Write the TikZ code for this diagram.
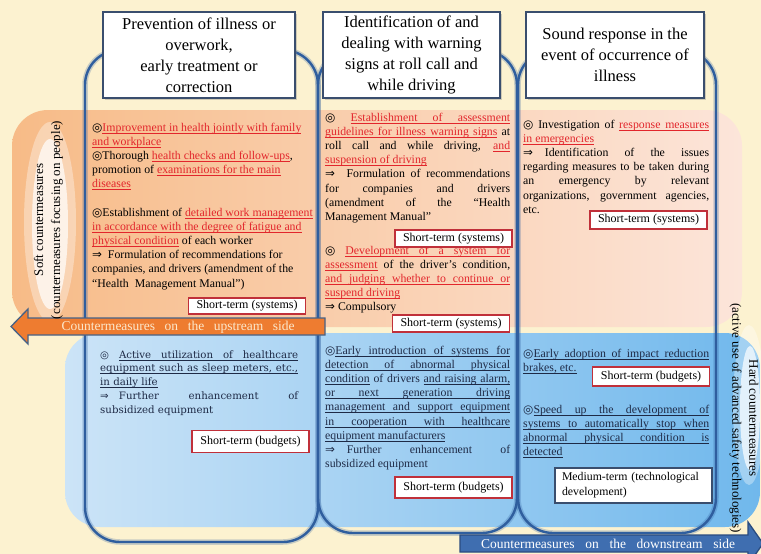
\documentclass[tikz,border=0pt]{standalone}
\usepackage{fontspec}
\setmainfont{Liberation Serif}
\newfontfamily\symfont{DejaVu Sans}
\newfontfamily\centfont{DejaVu Serif}
\usetikzlibrary{positioning,shadows}
\definecolor{bgcream}{RGB}{252,242,208}
\definecolor{softL}{RGB}{247,187,135}
\definecolor{softR}{RGB}{252,229,218}
\definecolor{hardL}{RGB}{204,228,247}
\definecolor{hardR}{RGB}{112,184,236}
\definecolor{colblue}{RGB}{47,94,158}
\definecolor{headframe}{RGB}{58,78,110}
\definecolor{warnred}{RGB}{226,38,44}
\definecolor{termred}{RGB}{192,48,58}
\definecolor{navytext}{RGB}{30,42,70}
\definecolor{upfill}{RGB}{238,124,48}
\definecolor{upframe}{RGB}{70,98,135}
\definecolor{uptext}{RGB}{252,232,204}
\definecolor{downfill}{RGB}{63,110,176}
\definecolor{downframe}{RGB}{42,76,128}
\newcommand{\dmark}{{\symfont ◎}}
\newcommand{\thento}{{\symfont ⇒}}
% underlined words joined by underlined stretchable spaces
\newcommand{\ulw}[1]{\setbox0\hbox{#1}\rlap{\rule[-2.3pt]{\wd0}{0.7pt}}\box0}
\newcommand{\uls}{\leaders\hrule height -1.6pt depth 2.3pt\hskip\fontdimen2\font plus\fontdimen3\font minus\fontdimen4\font}
\def\ulend{ULEND}
\def\ulph#1{\ulfirst#1 ULEND }
\def\ulfirst#1 {\ulw{#1}\ulrest}
\def\ulrest#1 {\def\ultmp{#1}\ifx\ultmp\ulend\else\uls\ulw{#1}\expandafter\ulrest\fi}
\newcommand{\redul}[1]{{\color{warnred}\ulph{#1}}}
\newcommand{\fullline}[1]{\hbox to\linewidth{#1}}
\newcommand{\lastline}[1]{\hbox to\linewidth{#1\hfil}}

\begin{document}
\begin{tikzpicture}[x=1pt,y=-1pt,
    colframe/.style={draw=colblue,line width=2.4pt,rounded corners=35pt},
    headbox/.style={draw=headframe,line width=1.3pt,fill=white,align=center,inner sep=0pt,
      font=\fontsize{16.5}{21}\selectfont,minimum height=86pt,
      drop shadow={shadow xshift=1.5pt,shadow yshift=-1.5pt,opacity=0.35}},
    termbox/.style={draw=termred,line width=1.3pt,fill=white,inner sep=0pt,minimum width=117pt,
      font=\fontsize{12}{14}\selectfont},
    body/.style={anchor=base west,inner sep=0pt,font=\fontsize{11.8}{14.2}\selectfont},
    sidelabel/.style={align=center,font=\fontsize{13}{17}\selectfont}]
  \useasboundingbox (0,0) rectangle (761,554);
  \clip (0,0) rectangle (761,554);
  \fill[bgcream] (0,0) rectangle (761,554);

  % bands
  \shade[left color=softL,right color=softR,rounded corners=36pt] (12,110) rectangle (742,327);
  \shade[left color=hardL,right color=hardR,rounded corners=35pt] (65,333) rectangle (760,527);
  \fill[white,opacity=0.35] (50,222) ellipse (26 and 100);
  \fill[white,opacity=0.7] (50,224) ellipse (18 and 85);
  \fill[white,opacity=0.35] (749,405) ellipse (16 and 80);
  \fill[white,opacity=0.7] (750,408) ellipse (10 and 62);

  % columns
  \foreach \xl/\xr/\yb in {85/318/542,318/517/533,518/716/533}{
    \draw[colblue,opacity=0.25,line width=5.5pt,rounded corners=35pt] (\xl,50) rectangle (\xr,\yb);
    \draw[colframe] (\xl,50) rectangle (\xr,\yb);
  }

  % headings
  \node[headbox,minimum width=192pt] (prevent) at (199,55) {Prevention of illness or\\overwork,\\early treatment or\\correction};
  \node[headbox,minimum width=177pt] (identify) at (411.5,55) {Identification of and\\dealing with warning\\signs at roll call and\\while driving};
  \node[headbox,minimum width=178pt] (respond) at (615,55) {Sound response in the\\event of occurrence of\\illness};

  % soft countermeasures
  \node[body] (prevsoft) at (92,131) {\parbox[t]{226pt}{%
    \lastline{\dmark\redul{Improvement in health jointly with family}}
    \lastline{\redul{and workplace}}
    \lastline{\dmark Thorough \redul{health checks and follow-ups},}
    \lastline{promotion of \redul{examinations for the main}}
    \lastline{\redul{diseases}}
    \lastline{}
    \lastline{\dmark Establishment of \redul{detailed work management}}
    \lastline{\redul{in accordance with the degree of fatigue and}}
    \lastline{\redul{physical condition} of each worker}
    \lastline{\thento\ \ Formulation of recommendations for}
    \lastline{companies, and drivers (amendment of the}
    \lastline{“Health\ \ Management Manual”)}}};
  \node[body] (identsoftA) at (325,121) {\parbox[t]{185pt}{%
    \fullline{\dmark\ \redul{Establishment of assessment}}
    \fullline{\redul{guidelines for illness warning signs} at}
    \fullline{roll call and while driving, \redul{and}}
    \lastline{\redul{suspension of driving}}
    \fullline{\thento\ \ Formulation of recommendations}
    \fullline{for companies and drivers}
    \fullline{(amendment of the “Health}
    \lastline{Management Manual”}}};
  \node[body] (identsoftB) at (325,254) {\parbox[t]{185pt}{%
    \fullline{\dmark\ \redul{Development of a system for}}
    \fullline{\redul{assessment} of the driver’s condition,}
    \fullline{\redul{and judging whether to continue or}}
    \lastline{\redul{suspend driving}}
    \lastline{\thento\ Compulsory}}};
  \node[body] (respsoft) at (523,128) {\parbox[t]{186pt}{%
    \fullline{\dmark\ Investigation of \redul{response measures}}
    \lastline{\redul{in emergencies}}
    \fullline{\thento\quad Identification of the issues}
    \fullline{regarding measures to be taken during}
    \fullline{an emergency by relevant}
    \fullline{organizations, government agencies,}
    \lastline{etc.}}};

  % hard countermeasures
  \node[body,text=navytext,font=\centfont\fontsize{10.2}{13.75}\selectfont] (prevhard) at (100,358) {\parbox[t]{198pt}{%
    \fullline{\dmark\ \ulph{Active utilization of healthcare}}
    \fullline{\ulph{equipment such as sleep meters, etc.,}}
    \lastline{\ulph{in daily life}}
    \fullline{\thento\quad Further enhancement of}
    \lastline{subsidized equipment}}};
  \node[body,text=navytext] (identhard) at (325,354) {\parbox[t]{185pt}{%
    \fullline{\dmark\ulph{Early introduction of systems for}}
    \fullline{\ulph{detection of abnormal physical}}
    \fullline{\ulph{condition} of drivers \ulph{and raising alarm,}}
    \fullline{\ulph{or next generation driving}}
    \fullline{\ulph{management and support equipment}}
    \fullline{\ulph{in cooperation with healthcare}}
    \lastline{\ulph{equipment manufacturers}}
    \fullline{\thento\quad Further enhancement of}
    \lastline{subsidized equipment}}};
  \node[body,text=navytext] (resphardA) at (523,357) {\parbox[t]{186pt}{%
    \fullline{\dmark\ulph{Early adoption of impact reduction}}
    \lastline{\ulph{brakes, etc.}}}};
  \node[body,text=navytext] (resphardB) at (523,413) {\parbox[t]{186pt}{%
    \fullline{\dmark\ulph{Speed up the development of}}
    \fullline{\ulph{systems to automatically stop when}}
    \fullline{\ulph{abnormal physical condition is}}
    \lastline{\ulph{detected}}}};

  % terms
  \node[termbox,minimum height=16pt] (termA) at (247,306) {Short-term (systems)};
  \node[termbox,minimum height=17pt] (termB) at (453.5,238.5) {Short-term (systems)};
  \node[termbox,minimum height=17pt] (termC) at (451,323.5) {Short-term (systems)};
  \node[termbox,minimum height=18pt] (termD) at (648.5,220) {Short-term (systems)};
  \node[termbox,minimum height=22pt] (termE) at (250.5,441.5) {Short-term (budgets)};
  \node[termbox,minimum height=21pt] (termF) at (453.5,487.5) {Short-term (budgets)};
  \node[termbox,minimum height=19pt] (termG) at (651,376.5) {Short-term (budgets)};
  \node[termbox,draw=headframe,minimum height=35pt,text width=143pt,inner xsep=7pt,align=left,
    font=\fontsize{11.8}{15}\selectfont] (termH) at (633.5,485.5) {Medium-term (technological\\development)};

  % upstream / downstream arrows
  \draw[fill=upfill,draw=upframe,line width=1.3pt] (325,318) -- (28,318) -- (28,309) -- (11,326.5)
    -- (28,344) -- (28,335) -- (325,335) -- cycle;
  \node[font=\fontsize{13.5}{15}\selectfont,text=uptext] (upstream) at (178,327)
    {\makebox[233pt][s]{Countermeasures on the upstream side}};
  \draw[fill=downfill,draw=downframe,line width=1.3pt] (460,535) -- (748,535) -- (748,522) -- (763,543.5)
    -- (748,565) -- (748,552) -- (460,552) -- cycle;
  \node[font=\fontsize{13.5}{15}\selectfont,text=white] (downstream) at (608,544)
    {\makebox[254pt][s]{Countermeasures on the downstream side}};

  % side labels
  \node[sidelabel,rotate=90] (softlabel) at (48.5,220) {Soft countermeasures\\(countermeasures focusing on people)};
  \node[sidelabel,rotate=-90] (hardlabel) at (744,418) {Hard countermeasures\\(active use of advanced safety technologies)};
\end{tikzpicture}
\end{document}
